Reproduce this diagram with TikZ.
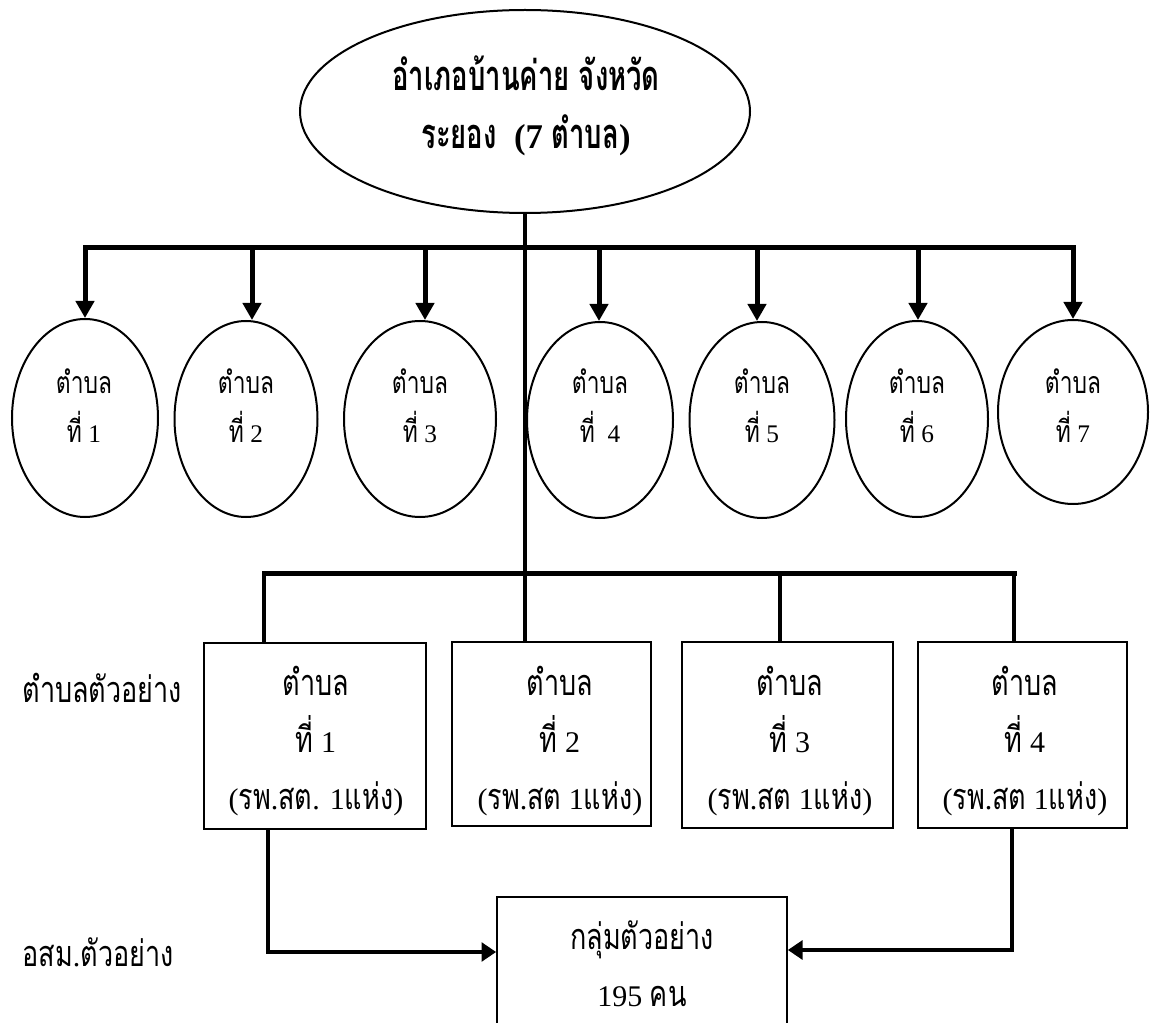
\documentclass[tikz,border=0pt]{standalone}
\usepackage{fontspec}
\setmainfont{Liberation Serif}
\newfontfamily\thaifont[Script=Thai,Scale=1.2,FakeStretch=0.75,BoldFeatures={FakeStretch=0.66}]{Loma}
\newcommand{\tha}[1]{{\thaifont #1}}
\usetikzlibrary{shapes.geometric,arrows.meta}

\tikzset{every picture/.style={line width=0.75pt}}
\tikzset{
  tambon/.style={draw,ellipse,line width=1.5pt,inner sep=0pt},
  unitbox/.style={draw,rectangle,line width=1.25pt,inner sep=0pt},
  txt/.style={inner sep=0pt,align=center},
  branch/.style={line width=3.75pt},
  drop/.style={line width=3pt},
  downarrow/.style={line width=3.75pt,-{Triangle[length=12.75pt,width=13.5pt]}},
  sidearrow/.style={line width=3.25pt,-{Triangle[length=11pt,width=14pt]}},
}

\begin{document}
\begin{tikzpicture}[x=0.75pt,y=0.75pt,yscale=-1,xscale=1]
\useasboundingbox (0,0) rectangle (1150,1023);

%Shape: Ellipse [top]
\node [tambon,minimum width=337.5pt,minimum height=152.25pt] (amphoe) at (525,111.5) {};
% Text Node
\node [txt,font=\fontsize{26}{43.5}\selectfont\bfseries] (amphoetxt) at (526,106) {\tha{อำเภอบ้านค่าย จังหวัด}\\\tha{ระยอง}\ \ (7 \tha{ตำบล})};

%Shape: Ellipse [tambon 1..7]
\node [tambon,minimum width=109.5pt,minimum height=148.5pt] (e1) at (85,418) {};
\node [tambon,minimum width=107.25pt,minimum height=147pt] (e2) at (246,419) {};
\node [tambon,minimum width=114pt,minimum height=147pt] (e3) at (420,419) {};
\node [tambon,minimum width=109.5pt,minimum height=147pt] (e4) at (600,420) {};
\node [tambon,minimum width=108.75pt,minimum height=147pt] (e5) at (762,420) {};
\node [tambon,minimum width=106.5pt,minimum height=147pt] (e6) at (917,419) {};
\node [tambon,minimum width=112.5pt,minimum height=138pt] (e7) at (1073,412) {};

% Text Node
\node [txt,font=\fontsize{19}{36.75}\selectfont] (t1) at (84,406) {\tha{ตำบล}\\\tha{ที่} 1};
\node [txt,font=\fontsize{19}{36.75}\selectfont] (t2) at (246,406) {\tha{ตำบล}\\\tha{ที่} 2};
\node [txt,font=\fontsize{19}{36.75}\selectfont] (t3) at (420,406) {\tha{ตำบล}\\\tha{ที่} 3};
\node [txt,font=\fontsize{19}{36.75}\selectfont] (t4) at (600,406) {\tha{ตำบล}\\\tha{ที่}\ \ 4};
\node [txt,font=\fontsize{19}{36.75}\selectfont] (t5) at (762,406) {\tha{ตำบล}\\\tha{ที่} 5};
\node [txt,font=\fontsize{19}{36.75}\selectfont] (t6) at (917,406) {\tha{ตำบล}\\\tha{ที่} 6};
\node [txt,font=\fontsize{19}{36.75}\selectfont] (t7) at (1073,406) {\tha{ตำบล}\\\tha{ที่} 7};

%Straight Lines [upper bar and arrows]
\coordinate (b1) at (85,248);
\coordinate (b2) at (252,248);
\coordinate (b3) at (425,248);
\coordinate (b4) at (599,248);
\coordinate (b5) at (757,248);
\coordinate (b6) at (918,248);
\coordinate (b7) at (1073,248);
\draw [branch,line cap=rect] (b1) -- (b7) ;
\draw [downarrow] (b1) -- (b1 |- e1.north) ;
\draw [downarrow] (b2) -- (b2 |- e2.north) ;
\draw [downarrow] (b3) -- (b3 |- e3.north) ;
\draw [downarrow] (b4) -- (b4 |- e4.north) ;
\draw [downarrow] (b5) -- (b5 |- e5.north) ;
\draw [downarrow] (b6) -- (b6 |- e6.north) ;
\draw [downarrow] (b7) -- (b7 |- e7.north) ;

%Shape: Rectangle [sample tambon]
\node [unitbox,minimum width=166.5pt,minimum height=139.5pt] (s1) at (315,736) {};
\node [unitbox,minimum width=149.25pt,minimum height=138pt] (s2) at (551.5,734) {};
\node [unitbox,minimum width=158.25pt,minimum height=139.5pt] (s3) at (787.5,735) {};
\node [unitbox,minimum width=156.75pt,minimum height=139.5pt] (s4) at (1022.5,735) {};

% Text Node
\node [txt,font=\fontsize{22.5}{43}\selectfont] (u1) at (316,741) {\tha{ตำบล}\\\tha{ที่} 1\\(\tha{รพ}.\tha{สต}. 1\tha{แห่ง})};
\node [txt,font=\fontsize{22.5}{43}\selectfont] (u2) at (560,741) {\tha{ตำบล}\\\tha{ที่} 2\\(\tha{รพ}.\tha{สต} 1\tha{แห่ง})};
\node [txt,font=\fontsize{22.5}{43}\selectfont] (u3) at (790,741) {\tha{ตำบล}\\\tha{ที่} 3\\(\tha{รพ}.\tha{สต} 1\tha{แห่ง})};
\node [txt,font=\fontsize{22.5}{43}\selectfont] (u4) at (1025,741) {\tha{ตำบล}\\\tha{ที่} 4\\(\tha{รพ}.\tha{สต} 1\tha{แห่ง})};

%Straight Lines [stem and lower bar]
\coordinate (k1) at (264,573);
\coordinate (k3) at (780,573);
\coordinate (k4) at (1014,573);
\draw [drop] (amphoe.south) -- (amphoe.south |- s2.north) ;
\draw [branch,line cap=rect] (k1) -- (k4) ;
\draw [drop] (k1) -- (k1 |- s1.north) ;
\draw [drop] (k3) -- (k3 |- s3.north) ;
\draw [drop] (k4) -- (k4 |- s4.north) ;

%Shape: Rectangle [sample group]
\node [unitbox,minimum width=217.5pt,minimum height=99.75pt] (grp) at (642,963.5) {};
% Text Node
\node [txt,font=\fontsize{22.5}{43}\selectfont] (grptxt) at (642,964) {\tha{กลุ่มตัวอย่าง}\\195 \tha{คน}};

%Straight Lines [to sample group]
\coordinate (c1) at (268,952);
\coordinate (c4) at (1012,950);
\draw [sidearrow] (c1 |- s1.south) -- (c1) -- (grp.west |- c1) ;
\draw [sidearrow] (c4 |- s4.south) -- (c4) -- (grp.east |- c4) ;

% Text Node
\node [txt,anchor=west,font=\fontsize{22.5}{27}\selectfont] (lbl1) at (22,688) {\tha{ตำบลตัวอย่าง}};
\node [txt,anchor=west,font=\fontsize{22.5}{27}\selectfont] (lbl2) at (22,952) {\tha{อสม}.\tha{ตัวอย่าง}};

\end{tikzpicture}
\end{document}
